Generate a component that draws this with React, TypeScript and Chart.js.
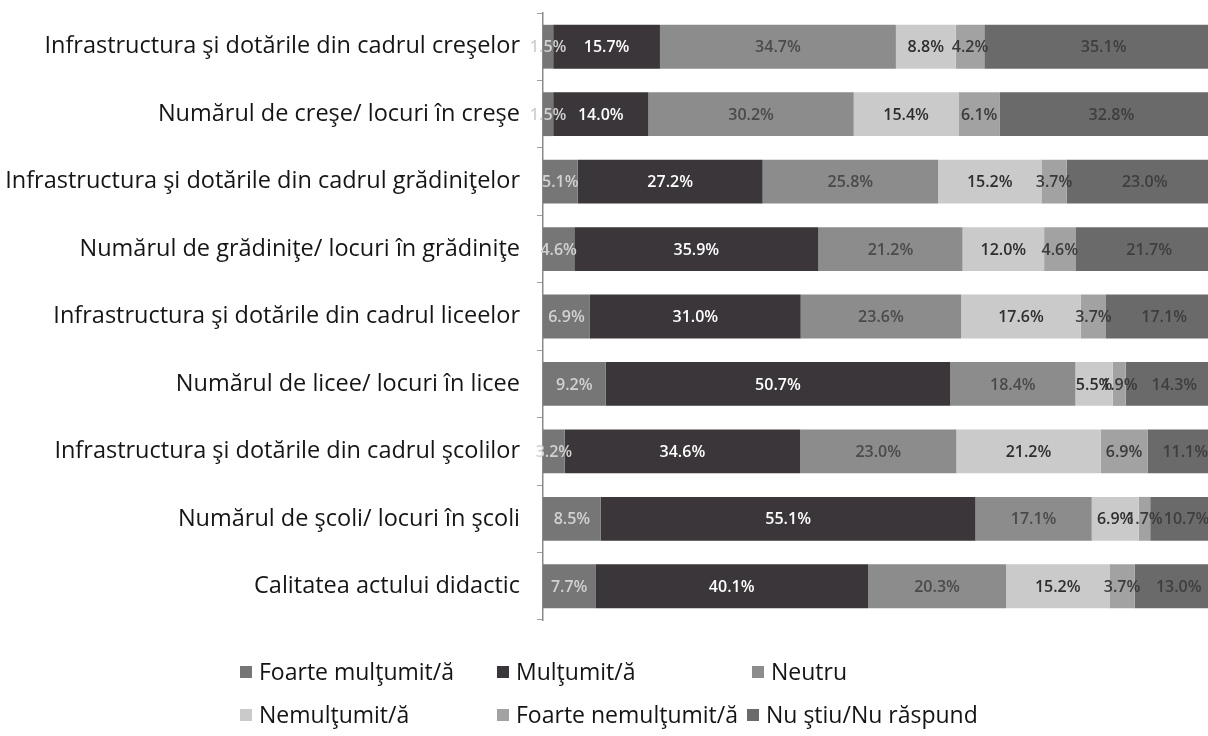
import React, { useEffect, useRef } from 'react';
import { Chart, registerables } from 'chart.js';

Chart.register(...registerables);

const categories = [
  'Infrastructura şi dotările din cadrul creşelor',
  'Numărul de creşe/ locuri în creşe',
  'Infrastructura şi dotările din cadrul grădiniţelor',
  'Numărul de grădiniţe/ locuri în grădiniţe',
  'Infrastructura şi dotările din cadrul liceelor',
  'Numărul de licee/ locuri în licee',
  'Infrastructura şi dotările din cadrul şcolilor',
  'Numărul de şcoli/ locuri în şcoli',
  'Calitatea actului didactic',
];

const seriesNames = [
  'Foarte mulţumit/ă',
  'Mulţumit/ă',
  'Neutru',
  'Nemulţumit/ă',
  'Foarte nemulţumit/ă',
  'Nu ştiu/Nu răspund',
];

const foarteMultumit = [1.5, 1.5, 5.1, 4.6, 6.9, 9.2, 3.2, 8.5, 7.7];
const multumit = [15.7, 14.0, 27.2, 35.9, 31.0, 50.7, 34.6, 55.1, 40.1];
const neutru = [34.7, 30.2, 25.8, 21.2, 23.6, 18.4, 23.0, 17.1, 20.3];
const nemultumit = [8.8, 15.4, 15.2, 12.0, 17.6, 5.5, 21.2, 6.9, 15.2];
const foarteNemultumit = [4.2, 6.1, 3.7, 4.6, 3.7, 1.9, 6.9, 1.7, 3.7];
const nuStiu = [35.1, 32.8, 23.0, 21.7, 17.1, 14.3, 11.1, 10.7, 13.0];

const seriesColors = ['#767676', '#3b3639', '#8c8c8c', '#cacaca', '#a2a2a2', '#6a6a6a'];
const valueLabelColors = ['#d2d2d2', '#ffffff', '#4a4a4a', '#2e2e2e', '#3a3a3a', '#3e3e3e'];

export default function App() {
  const ref = useRef<HTMLCanvasElement>(null);

  useEffect(() => {
    const series = [foarteMultumit, multumit, neutru, nemultumit, foarteNemultumit, nuStiu];

    const valueLabels = {
      id: 'valueLabels',
      afterDatasetsDraw(chart: any) {
        const ctx = chart.ctx;
        ctx.save();
        ctx.font = '600 16px "Open Sans"';
        ctx.textAlign = 'center';
        ctx.textBaseline = 'middle';
        chart.data.datasets.forEach((ds: any, di: number) => {
          const meta = chart.getDatasetMeta(di);
          meta.data.forEach((el: any, i: number) => {
            const v = ds.data[i];
            const cx = (el.x + el.base) / 2;
            ctx.fillStyle = valueLabelColors[di];
            ctx.fillText(v.toFixed(1) + '%', cx, el.y + 1);
          });
        });
        ctx.restore();
      },
    };

    const legendCols = [
      [240, 497, 752],
      [240, 497, 747],
    ];
    const legendRows = [672, 715];

    const customLegend = {
      id: 'customLegend',
      afterDraw(chart: any) {
        const ctx = chart.ctx;
        ctx.save();
        ctx.font = '23px "Open Sans"';
        ctx.textAlign = 'left';
        ctx.textBaseline = 'middle';
        chart.data.datasets.forEach((ds: any, di: number) => {
          const r = Math.floor(di / 3);
          const c = di % 3;
          const x = legendCols[r][c];
          const y = legendRows[r];
          ctx.fillStyle = ds.backgroundColor;
          ctx.fillRect(x, y - 6, 12, 12);
          ctx.fillStyle = '#141414';
          ctx.fillText(ds.label, x + 19, y + 1);
        });
        ctx.restore();
      },
    };

    const chart = new Chart(ref.current as HTMLCanvasElement, {
      type: 'bar',
      data: {
        labels: categories,
        datasets: series.map((d, i) => ({
          label: seriesNames[i],
          data: d,
          backgroundColor: seriesColors[i],
          borderWidth: 0,
          barPercentage: 0.65,
          categoryPercentage: 1,
        })),
      },
      options: {
        indexAxis: 'y',
        animation: false,
        responsive: false,
        layout: { padding: { top: 13, bottom: 116, left: 0, right: 0 } },
        plugins: {
          legend: { display: false },
          tooltip: { enabled: false },
        },
        scales: {
          x: { stacked: true, min: 0, max: 97.8, display: false },
          y: {
            stacked: true,
            afterFit: (s: any) => {
              s.width = 543;
              s.paddingTop = 0;
              s.paddingBottom = 0;
            },
            grid: { drawOnChartArea: false, tickLength: 6, color: '#a0a0a0', offset: true },
            border: { color: '#8a8a8a', width: 1.5 },
            ticks: { padding: 17, color: '#151515', font: { family: 'Open Sans', size: 23.5 } },
          },
        },
      },
      plugins: [valueLabels, customLegend],
    } as any);

    return () => chart.destroy();
  }, []);

  return (
    <div style={{ position: 'fixed', left: 0, top: 0, width: 1208, height: 736, background: '#ffffff' }}>
      <canvas ref={ref} width={1208} height={736} style={{ display: 'block' }} />
    </div>
  );
}
